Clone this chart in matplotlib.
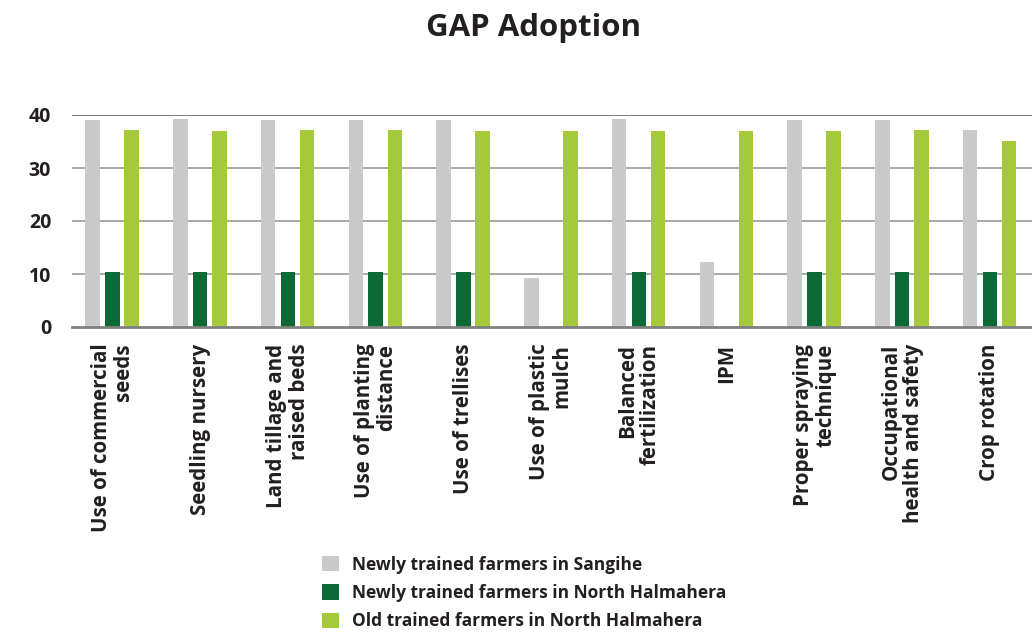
import matplotlib
matplotlib.use("Agg")
import matplotlib.pyplot as plt
import numpy as np
from matplotlib.patches import Patch

categories = [
    "Use of commercial\nseeds",
    "Seedling nursery",
    "Land tillage and\nraised beds",
    "Use of planting\ndistance",
    "Use of trellises",
    "Use of plastic\nmulch",
    "Balanced\nfertilization",
    "IPM",
    "Proper spraying\ntechnique",
    "Occupational\nhealth and safety",
    "Crop rotation",
]
sangihe_new = [39.0, 39.2, 39.0, 39.0, 39.0, 9.2, 39.2, 12.3, 39.0, 39.0, 37.1]
halmahera_new = [10.4, 10.3, 10.3, 10.4, 10.3, 0, 10.3, 0, 10.3, 10.4, 10.4]
halmahera_old = [37.1, 36.9, 37.1, 37.1, 36.9, 36.9, 36.9, 36.9, 36.9, 37.1, 35.0]
series_labels = [
    "Newly trained farmers in Sangihe",
    "Newly trained farmers in North Halmahera",
    "Old trained farmers in North Halmahera",
]
colors = ["#cacaca", "#0c6a37", "#a4c93b"]
yticks = [0, 10, 20, 30, 40]

plt.rcParams["font.family"] = ["Open Sans", "DejaVu Sans"]

fig = plt.figure(figsize=(10.32, 6.32), dpi=100)
ax = fig.add_axes([72 / 1032, 1 - 327 / 632, 1 - 72 / 1032, (327 - 115) / 632])

x = np.arange(len(categories))
width = 0.165
offsets = [-0.225, 0.0, 0.22]
for vals, off, col in zip([sangihe_new, halmahera_new, halmahera_old], offsets, colors):
    ax.bar(x + off, vals, width=width, color=col, zorder=3)

ax.set_xlim(-0.46, 10.48)
ax.set_ylim(0, 40)
ax.set_yticks(yticks)
ax.set_yticklabels([str(t) for t in yticks], fontsize=14, fontweight="bold", color="#231f20")
for t in yticks[1:]:
    ax.axhline(t, color="#999999", lw=1.2, zorder=1)
ax.axhline(0, color="#808080", lw=2.0, zorder=4, clip_on=False)
ax.axhline(40, color="#777777", lw=1.2, zorder=1)

for s in ax.spines.values():
    s.set_visible(False)
ax.tick_params(axis="y", length=0, pad=15)
ax.tick_params(axis="x", length=0, pad=12)

ax.set_xticks(x)
ax.set_xticklabels(categories, rotation=90, fontsize=14.8, fontweight="bold",
                   color="#231f20", ha="center", va="top", multialignment="right",
                   linespacing=1.08)

fig.text(534 / 1032, 1 - 28 / 632, "GAP Adoption", ha="center", va="center",
         fontsize=22.5, fontweight="bold", color="#231f20")

handles = [Patch(facecolor=c, edgecolor="none") for c in colors]
fig.legend(handles, series_labels, loc="upper left", bbox_to_anchor=(306 / 1032, 1 - 540 / 632),
           frameon=False, prop={"weight": "bold", "size": 12.5},
           handlelength=1.0, handleheight=1.0, handletextpad=0.75, labelspacing=0.6,
           labelcolor="#231f20")

fig.savefig("out.png", dpi=100)
